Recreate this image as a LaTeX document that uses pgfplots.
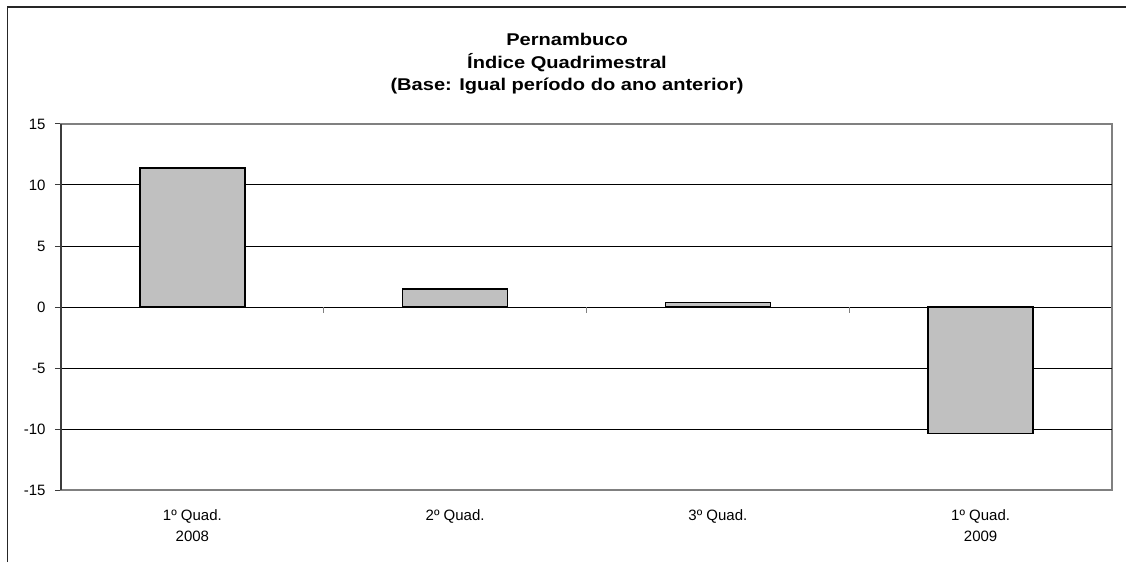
\documentclass[border=0pt]{standalone}
\usepackage{fontspec}
\setmainfont{Liberation Sans}
\usepackage{pgfplots}
\pgfplotsset{compat=1.18}
\definecolor{barfill}{RGB}{192,192,192}
\definecolor{bordergray}{RGB}{128,128,128}
\definecolor{axisdark}{RGB}{60,60,60}

\begin{document}
\begin{tikzpicture}
\useasboundingbox (0,0) rectangle (1126pt,562pt);
% outer chart frame (cut off at right and bottom in the original)
\draw[line width=1.5pt, black!85] (7.5pt,0pt) -- (7.5pt,555pt) -- (1126pt,555pt);

\begin{axis}[
  at={(61pt,72pt)}, anchor=south west,
  width=1051pt, height=366pt, scale only axis,
  xmin=-0.5, xmax=3.5, ymin=-15, ymax=15,
  ytick={-15,-10,...,15},
  ytick pos=left,
  xtick={0,1,2,3},
  xticklabels={{1º Quad.\\2008},{2º Quad.},{3º Quad.},{1º Quad.\\2009}},
  x tick style={draw=none},
  y tick style={axisdark, line width=1pt},
  tick align=outside, major tick length=6pt,
  extra y ticks={-10,-5,0,5,10},
  extra y tick labels={},
  extra y tick style={ymajorgrids, major tick length=0pt,
    major grid style={black, line width=1pt}},
  axis line style={bordergray, line width=1.6pt},
  /pgf/number format/assume math mode=true,
  yticklabel style={font=\fontsize{15}{18}\selectfont, anchor=east, xshift=-6pt},
  xticklabel style={font=\fontsize{15}{21}\selectfont, align=center, anchor=north, yshift=-10pt},
  clip=false,
]
\addplot[ybar, bar width=0.4, fill=barfill, draw=black, line width=1.6pt]
  coordinates {(0,11.37) (1,1.47) (2,0.38) (3,-10.37)};
% category separator ticks on the zero line
\draw[bordergray, line width=1pt] (axis cs:0.5,0) -- ++(0pt,-6pt);
\draw[bordergray, line width=1pt] (axis cs:1.5,0) -- ++(0pt,-6pt);
\draw[bordergray, line width=1pt] (axis cs:2.5,0) -- ++(0pt,-6pt);
\draw[bordergray, line width=1pt] (axis cs:3.5,0) -- ++(0pt,-6pt);
% left axis drawn darker
\draw[axisdark, line width=1.6pt] (axis cs:-0.5,-15) -- (axis cs:-0.5,15);
\end{axis}

\node[anchor=base, font=\bfseries\fontsize{17}{21}\selectfont] at (567pt,516pt) {\scalebox{1.18}[1]{Pernambuco}};
\node[anchor=base, font=\bfseries\fontsize{17}{21}\selectfont] at (567pt,493pt) {\scalebox{1.18}[1]{Índice Quadrimestral}};
\node[anchor=base, font=\bfseries\fontsize{17}{21}\selectfont] at (567pt,471pt) {\scalebox{1.18}[1]{(Base: Igual período do ano anterior)}};
\end{tikzpicture}
\end{document}
